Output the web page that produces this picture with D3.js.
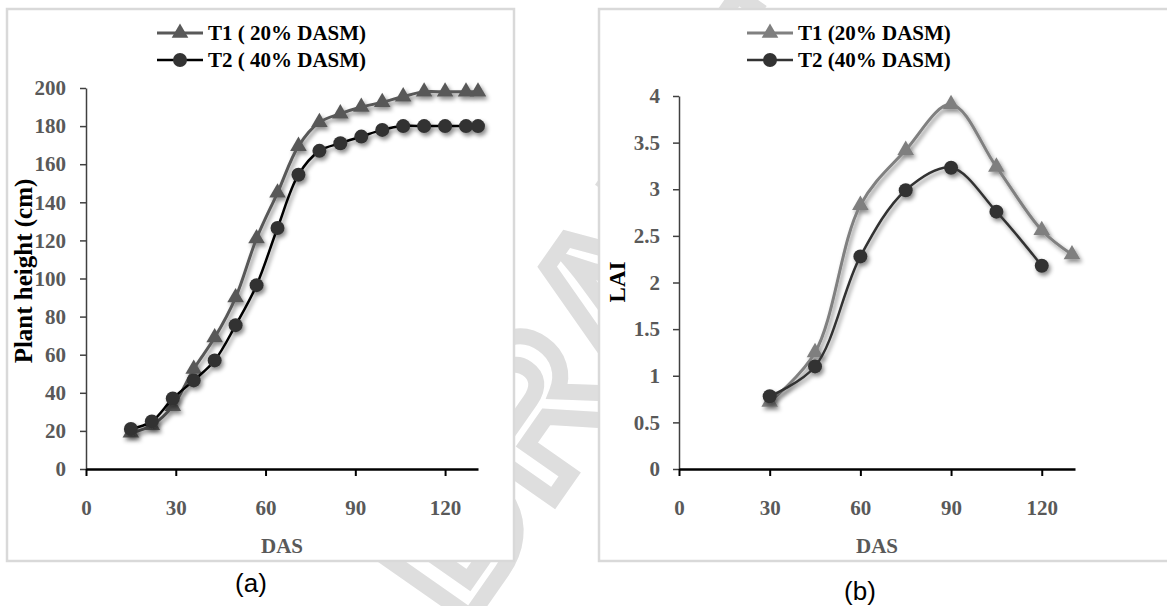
<!DOCTYPE html>
<html>
<head>
<meta charset="utf-8">
<script src="https://cdn.jsdelivr.net/npm/d3@7"></script>
<style>
  body { margin: 0; background: #fff; }
  svg { display: block; }
  .tick text { font-family: "Liberation Serif", "Times New Roman", serif; font-weight: bold; font-size: 21px; fill: #595959; }
</style>
</head>
<body>
<div id="chart"></div>
<script>
const W = 1167, H = 606;

// (a) plant height
const dasA = [15, 22, 29, 36, 43, 50, 57, 64, 71, 78, 85, 92, 99, 106, 113, 120, 127, 131];
const heightT1 = [19, 23, 33, 52.5, 69, 90, 121, 145, 169.5, 182, 186.5, 190, 192.5, 195.5, 198, 198, 198, 198];
const heightT2 = [21, 25, 37, 46.5, 57, 75.5, 96.5, 126.5, 154.5, 167, 171, 174.5, 178, 180, 180, 180, 180, 180];

// (b) LAI
const dasB1 = [30, 45, 60, 75, 90, 105, 120, 130];
const laiT1 = [0.72, 1.25, 2.83, 3.42, 3.91, 3.24, 2.56, 2.3];
const dasB2 = [30, 45, 60, 75, 90, 105, 120];
const laiT2 = [0.78, 1.1, 2.28, 2.99, 3.23, 2.76, 2.18];

const xTicks = [0, 30, 60, 90, 120];
const yTicksA = [0, 20, 40, 60, 80, 100, 120, 140, 160, 180, 200];
const yTicksB = [0, 0.5, 1, 1.5, 2, 2.5, 3, 3.5, 4];

const svg = d3.select("#chart").append("svg")
    .attr("width", W)
    .attr("height", H);

const defs = svg.append("defs");
const shadow = defs.append("filter")
    .attr("id", "shadow")
    .attr("x", "-20%").attr("y", "-20%")
    .attr("width", "140%").attr("height", "140%");
shadow.append("feDropShadow")
    .attr("dx", 2).attr("dy", 3)
    .attr("stdDeviation", 2)
    .attr("flood-color", "#000")
    .attr("flood-opacity", 0.45);

// watermark, only shows between/around the white chart frames
svg.append("text")
    .attr("transform", "translate(600,310) rotate(-55)")
    .attr("text-anchor", "middle")
    .attr("dominant-baseline", "central")
    .style("font-family", "Liberation Sans, Arial, sans-serif")
    .style("font-weight", "bold")
    .style("font-size", "200px")
    .attr("fill", "none")
    .attr("stroke", "#dedede")
    .attr("stroke-width", 16)
    .text("DRAFT");

const triangle = d3.symbol().type(d3.symbolTriangle).size(120);

function drawPanel(opt) {
    const g = svg.append("g");

    // frame
    g.append("rect")
        .attr("x", opt.frame[0]).attr("y", opt.frame[1])
        .attr("width", opt.frame[2]).attr("height", opt.frame[3])
        .attr("fill", "#fff")
        .attr("stroke", "#d9d9d9")
        .attr("stroke-width", 2.5);

    const x = d3.scaleLinear().domain([0, 131]).range(opt.xRange);
    const y = d3.scaleLinear().domain(opt.yDomain).range(opt.yRange);

    // y axis
    const yAxis = g.append("g")
        .attr("transform", `translate(${opt.xRange[0]},0)`)
        .call(d3.axisLeft(y).tickValues(opt.yTicks).tickFormat(d => String(d))
            .tickSize(6).tickSizeOuter(0).tickPadding(opt.yPad));
    yAxis.select(".domain").attr("stroke", "#404040").attr("stroke-width", 1.5);
    yAxis.selectAll(".tick line").attr("stroke", "#404040").attr("stroke-width", 1.5);

    // x axis
    const xAxis = g.append("g")
        .attr("transform", `translate(0,${opt.yRange[0]})`)
        .call(d3.axisBottom(x).tickValues(xTicks).tickSize(7).tickSizeOuter(0).tickPadding(24));
    xAxis.select(".domain").attr("stroke", "#000").attr("stroke-width", 2.5);
    xAxis.selectAll(".tick line").attr("stroke", "#000").attr("stroke-width", 2);

    // axis titles
    g.append("text")
        .attr("x", (opt.xRange[0] + opt.xRange[1]) / 2)
        .attr("y", 553)
        .attr("text-anchor", "middle")
        .style("font-family", "Liberation Serif, Times New Roman, serif")
        .style("font-weight", "bold")
        .style("font-size", "21px")
        .attr("fill", "#595959")
        .text("DAS");

    g.append("text")
        .attr("transform", `translate(${opt.yTitleX},${opt.yTitleY}) rotate(-90)`)
        .attr("text-anchor", "middle")
        .style("font-family", "Liberation Serif, Times New Roman, serif")
        .style("font-weight", "bold")
        .style("font-size", opt.yTitleSize + "px")
        .attr("fill", "#000")
        .text(opt.yTitle);

    // series
    const line = d3.line()
        .x(d => x(d[0]))
        .y(d => y(d[1]))
        .curve(opt.curve);

    opt.series.forEach(s => {
        const pts = s.xs.map((v, i) => [v, s.ys[i]]);
        const sg = g.append("g").attr("filter", "url(#shadow)");
        sg.append("path")
            .datum(pts)
            .attr("d", line)
            .attr("fill", "none")
            .attr("stroke", s.stroke)
            .attr("stroke-width", s.width);
        if (s.marker === "tri") {
            sg.selectAll("path.m")
                .data(pts)
                .enter()
                .append("path")
                .attr("class", "m")
                .attr("transform", d => `translate(${x(d[0])},${y(d[1])})`)
                .attr("d", triangle)
                .attr("fill", s.fill);
        } else {
            sg.selectAll("circle")
                .data(pts)
                .enter()
                .append("circle")
                .attr("cx", d => x(d[0]))
                .attr("cy", d => y(d[1]))
                .attr("r", 7)
                .attr("fill", s.fill);
        }
    });

    // legend
    const lg = g.append("g").attr("transform", `translate(${opt.legendX},0)`);
    opt.series.forEach((s, i) => {
        const ly = 33 + i * 27;
        lg.append("line")
            .attr("x1", 0).attr("x2", 46)
            .attr("y1", ly).attr("y2", ly)
            .attr("stroke", s.stroke)
            .attr("stroke-width", s.width);
        if (s.marker === "tri") {
            lg.append("path")
                .attr("transform", `translate(23,${ly})`)
                .attr("d", triangle)
                .attr("fill", s.fill);
        } else {
            lg.append("circle")
                .attr("cx", 23).attr("cy", ly).attr("r", 7)
                .attr("fill", s.fill);
        }
        lg.append("text")
            .attr("x", 51)
            .attr("y", ly + 7)
            .style("font-family", "Liberation Serif, Times New Roman, serif")
            .style("font-weight", "bold")
            .style("font-size", "21px")
            .attr("fill", "#000")
            .text(s.name);
    });

    // caption
    svg.append("text")
        .attr("x", opt.capX)
        .attr("y", opt.capY)
        .attr("text-anchor", "middle")
        .style("font-family", "Liberation Sans, Arial, sans-serif")
        .style("font-size", "26px")
        .attr("fill", "#000")
        .text(opt.caption);
}

drawPanel({
    frame: [7, 9, 507, 552],
    xRange: [86, 478],
    yDomain: [0, 200],
    yRange: [469, 88],
    yTicks: yTicksA,
    yPad: 14,
    yTitle: "Plant height (cm)",
    yTitleSize: 25,
    yTitleX: 32, yTitleY: 271,
    curve: d3.curveCatmullRom.alpha(0.5),
    legendX: 157,
    caption: "(a)", capX: 251, capY: 592,
    series: [
        { name: "T1 ( 20% DASM)", xs: dasA, ys: heightT1, stroke: "#595959", fill: "#595959", width: 3, marker: "tri" },
        { name: "T2 ( 40% DASM)", xs: dasA, ys: heightT2, stroke: "#000", fill: "#333", width: 2.5, marker: "circle" }
    ]
});

drawPanel({
    frame: [599, 9, 600, 552],
    xRange: [679, 1075],
    yDomain: [0, 4],
    yRange: [469, 96],
    yTicks: yTicksB,
    yPad: 13,
    yTitle: "LAI",
    yTitleSize: 23,
    yTitleX: 625, yTitleY: 282,
    curve: d3.curveCatmullRom.alpha(0.5),
    legendX: 747,
    caption: "(b)", capX: 860, capY: 600,
    series: [
        { name: "T1 (20% DASM)", xs: dasB1, ys: laiT1, stroke: "#808080", fill: "#7f7f7f", width: 3, marker: "tri" },
        { name: "T2 (40% DASM)", xs: dasB2, ys: laiT2, stroke: "#333", fill: "#333", width: 2.5, marker: "circle" }
    ]
});
</script>
</body>
</html>
